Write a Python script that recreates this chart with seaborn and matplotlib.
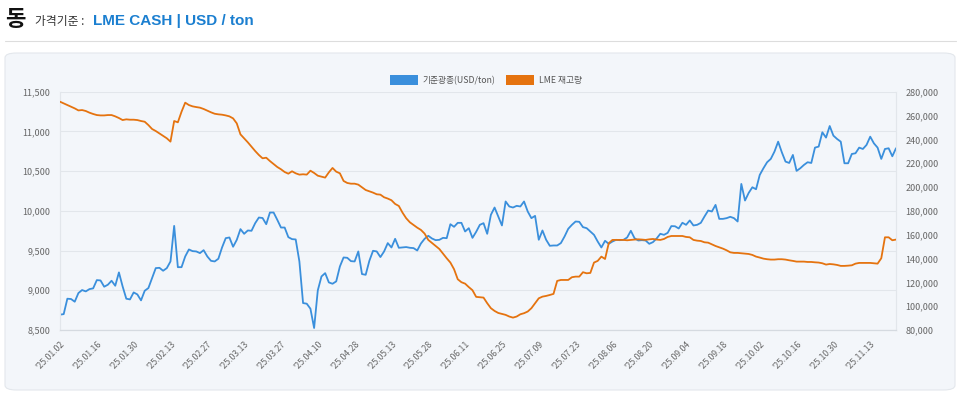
import matplotlib
matplotlib.use("Agg")
import matplotlib.pyplot as plt
from matplotlib.patches import FancyBboxPatch, Patch
import matplotlib.ticker as mticker
import seaborn as sns
import pandas as pd

# ------------------------------------------------------------------
# DATA
# ------------------------------------------------------------------
TICK_LABELS = ["'25.01.02", "'25.01.16", "'25.01.30", "'25.02.13", "'25.02.27",
               "'25.03.13", "'25.03.27", "'25.04.10", "'25.04.28", "'25.05.13",
               "'25.05.28", "'25.06.11", "'25.06.25", "'25.07.09", "'25.07.23",
               "'25.08.06", "'25.08.20", "'25.09.04", "'25.09.18", "'25.10.02",
               "'25.10.16", "'25.10.30", "'25.11.13"]
TICK_STEP = 10  # one label every 10 trading days

price_usd = [
    8693, 8700, 8894, 8890, 8856, 8965, 9003, 8986, 9015, 9024,
    9128, 9124, 9045, 9070, 9120, 9057, 9225, 9049, 8894, 8885,
    8973, 8948, 8873, 8994, 9028, 9153, 9279, 9283, 9246, 9279,
    9363, 9811, 9291, 9291, 9426, 9514, 9493, 9489, 9468, 9505,
    9426, 9371, 9363, 9397, 9539, 9656, 9665, 9548, 9635, 9770,
    9711, 9753, 9749, 9845, 9916, 9910, 9832, 9979, 9979, 9887,
    9790, 9790, 9669, 9644, 9640, 9363, 8839, 8831, 8768, 8525,
    8999, 9174, 9216, 9099, 9082, 9112, 9300, 9413, 9409, 9367,
    9363, 9489, 9204, 9195, 9371, 9497, 9489, 9418, 9489, 9594,
    9539, 9648, 9535, 9539, 9544, 9535, 9531, 9501, 9589, 9648,
    9686, 9652, 9631, 9635, 9660, 9656, 9832, 9799, 9849, 9849,
    9740, 9782, 9660, 9736, 9824, 9845, 9711, 9950, 10042, 9929,
    9816, 10118, 10055, 10042, 10063, 10055, 10118, 9992, 9908, 9937,
    9636, 9753, 9636, 9560, 9564, 9564, 9594, 9677, 9774, 9824,
    9866, 9862, 9795, 9782, 9740, 9698, 9614, 9539, 9623, 9585,
    9614, 9635, 9631, 9635, 9665, 9749, 9656, 9627, 9631, 9627,
    9585, 9606, 9652, 9711, 9698, 9723, 9808, 9806, 9778, 9850,
    9824, 9879, 9816, 9824, 9849, 9929, 10004, 9992, 10075, 9899,
    9899, 9908, 9925, 9908, 9866, 10339, 10130, 10226, 10297, 10272,
    10452, 10536, 10612, 10654, 10746, 10871, 10737, 10620, 10603, 10704,
    10503, 10536, 10578, 10612, 10603, 10796, 10809, 10989, 10922, 11068,
    10947, 10905, 10871, 10599, 10599, 10716, 10725, 10796, 10779, 10830,
    10934, 10850, 10796, 10654, 10779, 10788, 10687, 10788,
]

lme_stock = [
    271600, 270200, 268800, 267400, 266000, 264300, 264600, 263800, 262400, 261300,
    260400, 260100, 260100, 260400, 260400, 259300, 257900, 256200, 256800, 256500,
    256500, 256200, 255400, 254800, 252000, 248700, 247000, 245000, 243100, 240900,
    238100, 255400, 254300, 263200, 270800, 268800, 267700, 267100, 266600, 265500,
    264100, 262700, 261500, 261000, 260700, 260100, 259300, 257600, 253400, 244200,
    240900, 237500, 233900, 230200, 226900, 224100, 224600, 221800, 219300, 216800,
    214900, 212600, 211200, 213200, 211500, 210400, 210700, 210400, 213700, 211800,
    209500, 208700, 207900, 212300, 216000, 212900, 211500, 205100, 203400, 202800,
    202800, 202000, 199800, 197500, 196400, 195300, 193900, 193600, 191400, 190300,
    188900, 185800, 184100, 178500, 173800, 170400, 168200, 165900, 164000, 160900,
    155600, 153100, 150600, 148000, 144100, 140200, 136600, 131000, 122600, 120100,
    118900, 116000, 113400, 107800, 107500, 107200, 102500, 98300, 96000, 94300,
    93500, 92700, 91300, 90400, 91300, 93200, 94100, 95500, 98300, 102500,
    106600, 108000, 108600, 109400, 110300, 121200, 122000, 122000, 122000, 124300,
    124800, 124800, 128500, 127600, 127900, 136600, 138000, 141600, 139600, 152800,
    155600, 155600, 155600, 155600, 155300, 155600, 155900, 156100, 155900, 155600,
    156100, 156400, 155900, 155600, 156400, 158100, 158900, 158900, 158900, 158900,
    158100, 157800, 155600, 155000, 154700, 153600, 153300, 151900, 150500, 149400,
    148300, 146900, 145200, 144700, 144700, 144400, 144100, 143800, 143000, 141600,
    140800, 139900, 139400, 139100, 139100, 139400, 139400, 139100, 138500, 138000,
    137400, 137400, 137400, 137100, 137100, 136800, 136600, 136000, 134900, 135400,
    135100, 134600, 133800, 133800, 134000, 134300, 135700, 136300, 136300, 136300,
    136300, 136000, 135700, 140200, 157800, 157800, 155300, 155900,
]

SERIES_NAMES = ["기준광종(USD/ton)", "LME 재고량"]

# ------------------------------------------------------------------
# STYLE
# ------------------------------------------------------------------
BLUE = "#3a8fdc"
ORANGE = "#e5730f"
PANEL = "#f3f6fa"
GRID = "#e2e6eb"
TICK_C = "#666666"

sns.set_theme(style="white")
plt.rcParams["font.family"] = ["Noto Sans CJK KR", "DejaVu Sans"]

df = pd.DataFrame({"idx": range(len(price_usd)), "price": price_usd, "stock": lme_stock})

W, H = 960, 396
fig = plt.figure(figsize=(W / 100, H / 100), dpi=100)
fig.patch.set_facecolor("white")

# header
fig.text(5 / W, 1 - 19 / H, "동", fontsize=16, weight="bold", color="#111111", va="center")
fig.text(35 / W, 1 - 21 / H, "가격기준 :", fontsize=8.5, color="#333333", va="center")
fig.text(93 / W, 1 - 21 / H, "LME CASH | USD / ton", fontsize=11, weight="bold",
         color="#1b7fd0", va="center", family=["Liberation Sans", "DejaVu Sans"])
fig.add_artist(plt.Line2D([5 / W, 956 / W], [1 - 41 / H, 1 - 41 / H],
                          color="#dddddd", lw=0.8, transform=fig.transFigure))

# panel behind the chart
panel = FancyBboxPatch((5 / W, 1 - 390 / H), 950 / W, 337 / H,
                       boxstyle="round,pad=0,rounding_size=0.012",
                       transform=fig.transFigure, facecolor=PANEL,
                       edgecolor="#e3e7ec", lw=0.8, zorder=-10)
fig.patches.append(panel)

ax = fig.add_axes([60 / W, 1 - 330 / H, 836 / W, (330 - 91.7) / H])
ax.set_facecolor("none")
ax2 = ax.twinx()
ax2.set_facecolor("none")

sns.lineplot(data=df, x="idx", y="price", ax=ax, color=BLUE, lw=1.3, zorder=3)
sns.lineplot(data=df, x="idx", y="stock", ax=ax2, color=ORANGE, lw=1.3, zorder=3)

ax.set_xlim(0, len(price_usd) - 1)
ax.set_ylim(8500, 11500)
ax2.set_ylim(80000, 280000)
ax.set_yticks(range(8500, 11501, 500))
ax2.set_yticks(range(80000, 280001, 20000))
fmt = mticker.FuncFormatter(lambda v, p: f"{int(v):,}")
ax.yaxis.set_major_formatter(fmt)
ax2.yaxis.set_major_formatter(fmt)

ax.set_xticks([k * TICK_STEP for k in range(len(TICK_LABELS))])
ax.set_xticklabels(TICK_LABELS, rotation=45, ha="right", rotation_mode="anchor")

ax.grid(axis="y", color=GRID, lw=0.8)
ax.set_axisbelow(True)
for a in (ax, ax2):
    a.set_xlabel("")
    a.set_ylabel("")
    a.spines["top"].set_visible(False)
    a.spines["left"].set_color(GRID)
    a.spines["right"].set_color(GRID)
    a.spines["bottom"].set_color("#d5dae0")
    for s in a.spines.values():
        s.set_linewidth(0.8)

ax.tick_params(axis="y", length=0, pad=7, labelsize=6.5, colors=TICK_C)
ax2.tick_params(axis="y", length=0, pad=7, labelsize=6.5, colors=TICK_C)
ax.tick_params(axis="x", length=4, width=0.6, color="#c8ced6", pad=3,
               labelsize=6.3, labelcolor=TICK_C)

handles = [Patch(facecolor=BLUE, edgecolor="none", label=SERIES_NAMES[0]),
           Patch(facecolor=ORANGE, edgecolor="none", label=SERIES_NAMES[1])]
leg = fig.legend(handles=handles, loc="center", bbox_to_anchor=(486 / W, 1 - 80 / H),
                 ncol=2, frameon=False, fontsize=6.3, handlelength=3.2,
                 handleheight=1.4, columnspacing=1.2, handletextpad=0.6)
for t in leg.get_texts():
    t.set_color("#555555")

fig.savefig("out.png", dpi=100, facecolor="white")
